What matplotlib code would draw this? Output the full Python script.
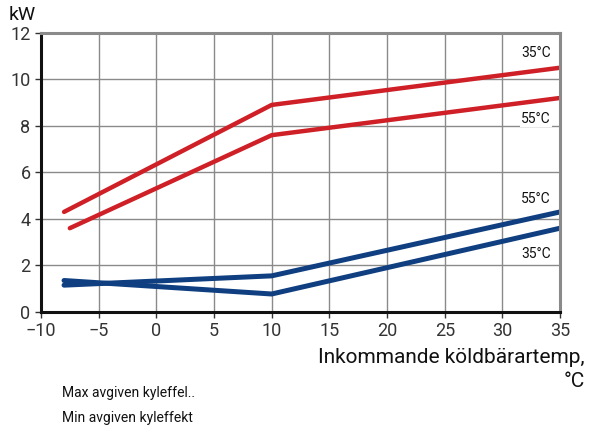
import matplotlib
matplotlib.use("Agg")
import matplotlib.pyplot as plt

plt.rcParams['font.family'] = ['Roboto', 'DejaVu Sans']

RED = "#cf2027"
BLUE = "#0f3f80"

x_max35 = [-8, 10, 35]
y_max35 = [4.3, 8.9, 10.5]
x_max55 = [-7.5, 10, 35]
y_max55 = [3.6, 7.6, 9.2]
x_min55 = [-8, 10, 35]
y_min55 = [1.15, 1.55, 4.3]
x_min35 = [-8, 10, 35]
y_min35 = [1.35, 0.77, 3.6]

xticks = [-10, -5, 0, 5, 10, 15, 20, 25, 30, 35]
xticklabels = ["\u221210", "\u22125", "0", "5", "10", "15", "20", "25", "30", "35"]
yticks = [0, 2, 4, 6, 8, 10, 12]

fig = plt.figure(figsize=(5.94, 4.32), dpi=100)
ax = fig.add_axes([0.069, 0.278, 0.874, 0.646])

ax.plot(x_max35, y_max35, color=RED, lw=3.2, solid_capstyle="round")
ax.plot(x_max55, y_max55, color=RED, lw=3.2, solid_capstyle="round")
ax.plot(x_min55, y_min55, color=BLUE, lw=3.6, solid_capstyle="round")
ax.plot(x_min35, y_min35, color=BLUE, lw=3.6, solid_capstyle="round")

ax.set_xlim(-10, 35)
ax.set_ylim(0, 12)
ax.set_xticks(xticks)
ax.set_xticklabels(xticklabels)
ax.set_yticks(yticks)
ax.tick_params(labelsize=13, colors="#333333", length=4, width=1)
ax.grid(True, color="#8a8a8a", lw=1)
ax.set_axisbelow(True)

ax.spines["left"].set_color("#111111")
ax.spines["left"].set_linewidth(2.2)
ax.spines["bottom"].set_color("#111111")
ax.spines["bottom"].set_linewidth(2.2)
ax.spines["top"].set_color("#8a8a8a")
ax.spines["top"].set_linewidth(2.2)
ax.spines["right"].set_color("#8a8a8a")
ax.spines["right"].set_linewidth(2.2)

lbl = dict(fontsize=10, ha="right", va="center", color="#111111")
ax.text(34.2, 11.15, "35\u00b0C", **lbl)
ax.text(34.2, 8.3, "55\u00b0C", bbox=dict(facecolor="white", edgecolor="none", pad=1), **lbl)
ax.text(34.2, 4.85, "55\u00b0C", **lbl)
ax.text(34.2, 2.5, "35\u00b0C", **lbl)

fig.text(0.015, 0.985, "kW", fontsize=14, ha="left", va="top", color="#111111")
fig.text(0.985, 0.145, "Inkommande k\u00f6ldb\u00e4rartemp,\n\u00b0C", fontsize=15,
         ha="right", va="center", color="#111111", linespacing=1.3, multialignment="right")
fig.text(0.105, 0.09, "Max avgiven kyleffel..", fontsize=10, ha="left", va="center", color="#111111")
fig.text(0.105, 0.032, "Min avgiven kyleffekt", fontsize=10, ha="left", va="center", color="#111111")

fig.savefig("out.png", dpi=100)
